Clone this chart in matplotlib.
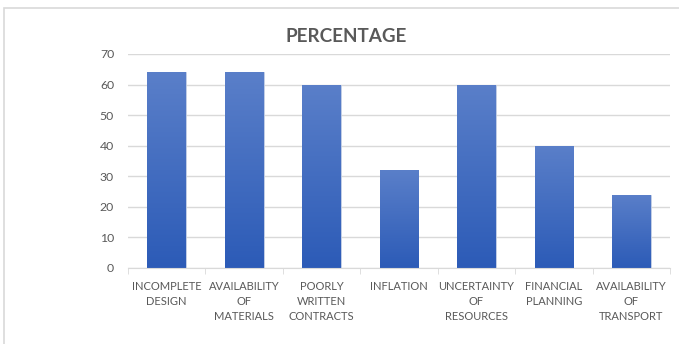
import matplotlib.pyplot as plt
import numpy as np
from matplotlib.patches import Rectangle

categories = ["INCOMPLETE\nDESIGN", "AVAILABILITY\nOF\nMATERIALS", "POORLY\nWRITTEN\nCONTRACTS",
              "INFLATION", "UNCERTAINTY\nOF\nRESOURCES", "FINANCIAL\nPLANNING",
              "AVAILABILITY\nOF\nTRANSPORT"]
percentage = [64, 64, 60, 32, 60, 40, 24]

plt.rcParams["font.family"] = ["Lato", "DejaVu Sans"]
grey = "#595959"

fig = plt.figure(figsize=(6.79, 3.44), dpi=100)
ax = fig.add_axes([128 / 679, 76 / 344, 542 / 679, 214 / 344])

# chart frame
fig.patches.append(Rectangle((4 / 679, -0.1), 1.2, 1.1 - 8 / 344, transform=fig.transFigure,
                             fill=False, edgecolor="#D9D9D9", linewidth=1.2))

x = np.arange(len(categories))
bars = ax.bar(x, percentage, width=0.5, color="#3F69C2", edgecolor="#C9D3E6", linewidth=0.6, zorder=2)

# vertical gradient on each bar
grad = np.linspace(0, 1, 256).reshape(-1, 1)
cmap = plt.matplotlib.colors.LinearSegmentedColormap.from_list("bar", ["#2C5BB7", "#5A7FC9"])
for b in bars:
    x0, w, h = b.get_x(), b.get_width(), b.get_height()
    im = ax.imshow(grad, cmap=cmap, origin="lower", aspect="auto",
                   extent=(x0, x0 + w, 0, h), zorder=2.5)
    im.set_clip_path(b)

ax.set_xlim(-0.5, len(categories) - 0.5)
ax.set_ylim(0, 70)
ax.set_yticks(range(0, 71, 10))
ax.set_xticks(x)
ax.set_xticklabels(categories, linespacing=1.45)
ax.set_xticks(np.arange(-0.5, len(categories)), minor=True)

ax.grid(axis="y", color="#D9D9D9", linewidth=1, zorder=0)
ax.set_axisbelow(True)
for side in ["top", "right", "left"]:
    ax.spines[side].set_visible(False)
ax.spines["bottom"].set_color("#D9D9D9")
ax.tick_params(axis="x", which="major", length=0, pad=9, labelsize=8, labelcolor=grey)
ax.tick_params(axis="x", which="minor", length=4, color="#D9D9D9")
ax.tick_params(axis="y", length=0, pad=10, labelsize=8.8, labelcolor=grey)

fig.text(346 / 679, 1 - 36 / 344, "PERCENTAGE", ha="center", va="center",
         fontsize=13.6, fontweight="bold", color=grey)

fig.savefig("out.png", dpi=100)
